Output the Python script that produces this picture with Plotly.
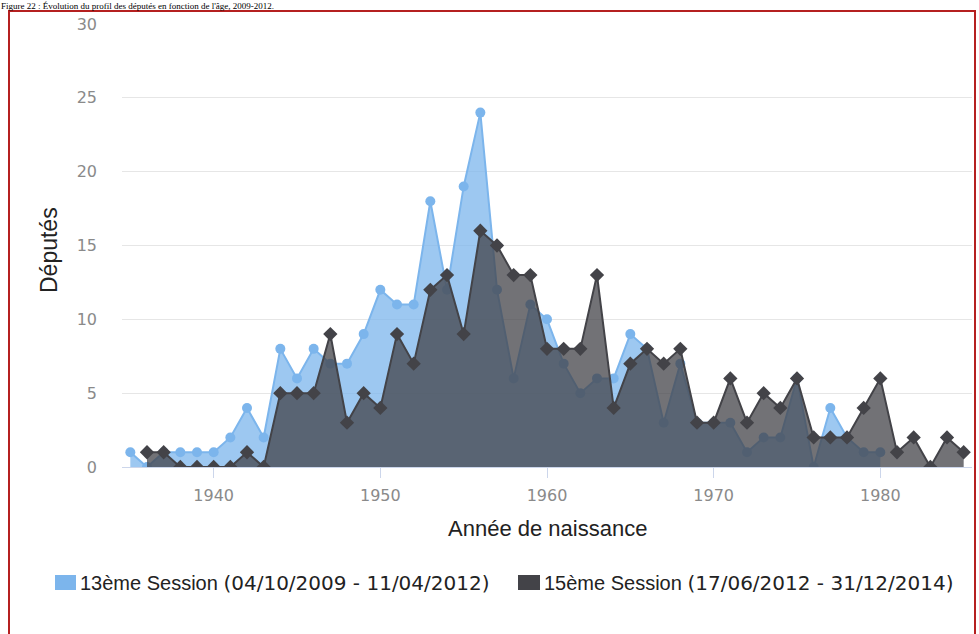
import plotly.graph_objects as go

# ---- data ----
years_13 = list(range(1935, 1981))
deputes_13 = [1, 0, 1, 1, 1, 1, 2, 4, 2, 8,
              6, 8, 7, 7, 9, 12, 11, 11, 18, 12,
              19, 24, 12, 6, 11, 10, 7, 5, 6, 6,
              9, 8, 3, 7, 3, 3, 3, 1, 2, 2,
              6, 0, 4, 2, 1, 1]

years_15 = list(range(1936, 1986))
deputes_15 = [1, 1, 0, 0, 0, 0, 1, 0, 5, 5,
              5, 9, 3, 5, 4, 9, 7, 12, 13, 9,
              16, 15, 13, 13, 8, 8, 8, 13, 4, 7,
              8, 7, 8, 3, 3, 6, 3, 5, 4, 6,
              2, 2, 2, 4, 6, 1, 2, 0, 2, 1]

x_ticks = [1940, 1950, 1960, 1970, 1980]
y_ticks = [0, 5, 10, 15, 20, 25, 30]

name_13 = "13ème Session"
dates_13 = "(04/10/2009 - 11/04/2012)"
name_15 = "15ème Session"
dates_15 = "(17/06/2012 - 31/12/2014)"
caption = "Figure 22 : Évolution du profil des députés en fonction de l'âge, 2009-2012."
x_title = "Année de naissance"
y_title = "Députés"

# ---- styling ----
W, H = 979, 634
L, R, T, B = 122, 7, 24, 167
pw, ph = W - L - R, H - T - B


def px(x):
    return (x - L) / pw


def py(y):
    return (H - B - y) / ph


blue = "#7cb5ec"
dark = "#434348"

fig = go.Figure()
fig.add_trace(go.Scatter(
    x=years_13, y=deputes_13, mode="lines+markers", name=name_13,
    line=dict(color=blue, width=2),
    marker=dict(symbol="circle", size=10, color=blue),
    fill="tozeroy", fillcolor="rgba(124,181,236,0.75)", showlegend=False))
fig.add_trace(go.Scatter(
    x=years_15, y=deputes_15, mode="lines+markers", name=name_15,
    line=dict(color=dark, width=2),
    marker=dict(symbol="diamond", size=11, color=dark),
    fill="tozeroy", fillcolor="rgba(67,67,72,0.75)", showlegend=False))

tickfont = dict(family="DejaVu Sans", size=16, color="#8a8a8a")

fig.update_xaxes(range=[1934.5, 1985.5], tickvals=x_ticks, showgrid=False,
                 showline=True, linecolor="#ccd6eb", linewidth=1,
                 ticks="outside", ticklen=10, tickcolor="#ccd6eb",
                 tickfont=tickfont, zeroline=False, ticklabelstandoff=4)
fig.update_yaxes(range=[0, 30], tickvals=y_ticks, showgrid=True,
                 gridcolor="#e6e6e6", gridwidth=1, showline=False,
                 zeroline=False, tickfont=tickfont, ticklabelstandoff=24)

shapes = []
# red frame
shapes.append(dict(type="rect", xref="paper", yref="paper",
                   x0=px(9), x1=px(975), y0=py(700), y1=py(11),
                   line=dict(color="#b52020", width=2), fillcolor="rgba(0,0,0,0)"))
# legend swatches
shapes.append(dict(type="rect", xref="paper", yref="paper",
                   x0=px(55), x1=px(76), y0=py(590), y1=py(575),
                   line=dict(width=0), fillcolor=blue))
shapes.append(dict(type="rect", xref="paper", yref="paper",
                   x0=px(518), x1=px(540), y0=py(590), y1=py(575),
                   line=dict(width=0), fillcolor=dark))

legfont_name = "font-family:'Liberation Sans Narrow','Liberation Sans';font-size:20px"
legfont_date = "font-family:'DejaVu Sans';font-size:20px"

annotations = [
    dict(text=caption, xref="paper", yref="paper", x=px(0), y=py(0),
         xanchor="left", yanchor="top", showarrow=False, borderpad=0,
         font=dict(family="Liberation Serif", size=9, color="#000")),
    dict(text=x_title, xref="paper", yref="paper", x=px(547), y=py(528),
         xanchor="center", yanchor="middle", showarrow=False,
         font=dict(family="Liberation Sans", size=22, color="#222")),
    dict(text=y_title, xref="paper", yref="paper", x=px(49), y=py(250),
         xanchor="center", yanchor="middle", showarrow=False, textangle=-90,
         font=dict(family="Liberation Sans", size=23, color="#222")),
    dict(text=f"<span style=\"{legfont_name}\">{name_13} </span><span style=\"{legfont_date}\">{dates_13}</span>",
         xref="paper", yref="paper", x=px(78), y=py(583),
         xanchor="left", yanchor="middle", showarrow=False,
         font=dict(family="DejaVu Sans", size=20, color="#222")),
    dict(text=f"<span style=\"{legfont_name}\">{name_15} </span><span style=\"{legfont_date}\">{dates_15}</span>",
         xref="paper", yref="paper", x=px(542), y=py(583),
         xanchor="left", yanchor="middle", showarrow=False,
         font=dict(family="DejaVu Sans", size=20, color="#222")),
]

fig.update_layout(width=W, height=H, margin=dict(l=L, r=R, t=T, b=B),
                  plot_bgcolor="white", paper_bgcolor="white",
                  showlegend=False, shapes=shapes, annotations=annotations)

fig.write_html("out.html", config={"displayModeBar": False},
               post_script="document.body.style.margin='0';")
